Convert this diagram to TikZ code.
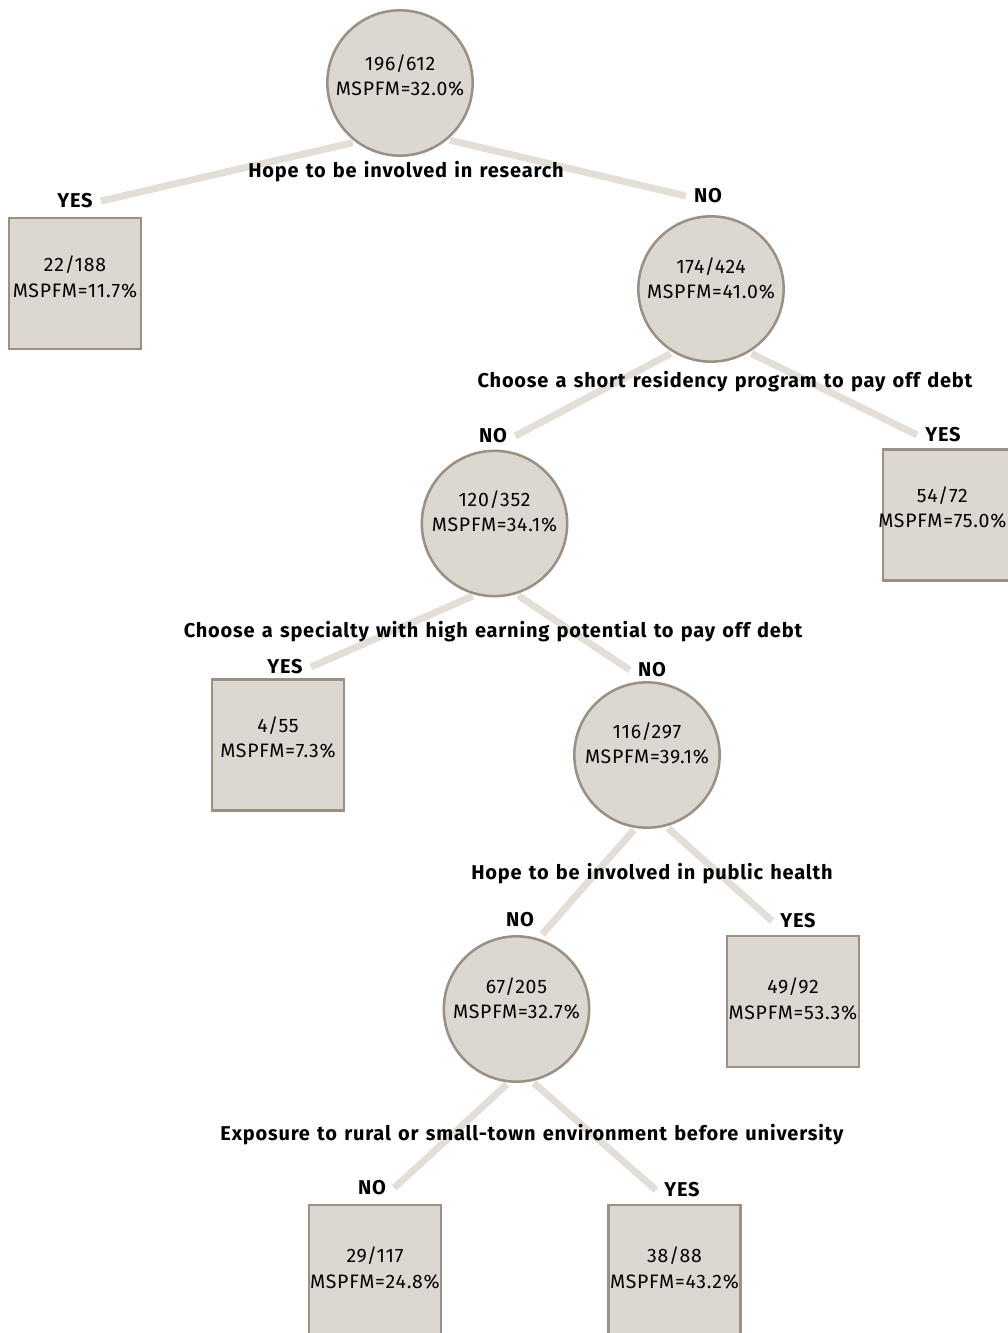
\documentclass[tikz,border=0pt]{standalone}
\usepackage{fontspec}
\setmainfont{Fira Sans}[LetterSpace=4, WordSpace=1.3]
\usetikzlibrary{backgrounds}
\definecolor{nodefill}{HTML}{DCD7D0}
\definecolor{nodeline}{HTML}{9A9084}
\definecolor{branchline}{HTML}{E3DED7}
\newcommand{\stat}[3][0pt]{\raisebox{#1}[\height][\depth]{\begin{tabular}{@{}c@{}}#2\\MSPFM=#3\%\end{tabular}}}
\tikzset{
	split/.style={circle, draw=nodeline, fill=nodefill, line width=1.9pt, minimum size=109pt, inner sep=0pt, font=\fontsize{14.6}{19}\selectfont},
	leaf/.style={rectangle, draw=nodeline, fill=nodefill, line width=1.9pt, minimum width=99pt, minimum height=98pt, inner sep=0pt, font=\fontsize{14.6}{19}\selectfont},
	answer/.style={font=\bfseries\fontsize{15}{18}\selectfont, inner xsep=6pt, inner ysep=5pt},
	question/.style={font=\bfseries\fontsize{15}{18}\selectfont, inner sep=0pt},
	branch/.style={draw=branchline, line width=5.25pt, shorten <=2pt},
}
\begin{document}
\begin{tikzpicture}[x=0.75pt, y=-0.75pt]
	\useasboundingbox (0,0) rectangle (1007,1333);
	\node[split] (0) at (400, 83) {\stat[4pt]{196/612}{32.0}};
	\node[answer] (1) at (75, 201) {YES};
	\node[answer] (2) at (708, 196) {NO};
	\node[question] (3) at (406, 172) {Hope to be involved in research};
	\node[leaf] (4) at (75, 283.5) {\stat[3pt]{22/188}{11.7}};
	\node[split] (5) at (711, 289) {\stat[6pt]{174/424}{41.0}};
	\node[answer] (6) at (493, 436) {NO};
	\node[answer] (7) at (943, 435) {YES};
	\node[question] (8) at (725, 382) {Choose a short residency program to pay off debt};
	\node[leaf] (9) at (949, 515) {\kern-5pt\stat[4pt]{54/72}{75.0}\kern5pt};
	\node[split] (10) at (494.5, 523.5) {\stat[7pt]{120/352}{34.1}};
	\node[answer] (11) at (285, 667) {YES};
	\node[answer] (12) at (652, 670) {NO};
	\node[question] (13) at (493, 632) {Choose a specialty with high earning potential to pay off debt};
	\node[leaf] (14) at (278, 745) {\stat[4pt]{4/55}{7.3}};
	\node[split] (15) at (647, 755) {\stat[7pt]{116/297}{39.1}};
	\node[answer] (16) at (520, 920) {NO};
	\node[answer] (17) at (798, 921) {YES};
	\node[question] (18) at (652, 874) {Hope to be involved in public health};
	\node[leaf] (19) at (793, 1001.5) {\stat{49/92}{53.3}};
	\node[split] (20) at (516.5, 1009) {\stat[6pt]{67/205}{32.7}};
	\node[answer] (21) at (372, 1188) {NO};
	\node[answer] (22) at (682, 1190) {YES};
	\node[question] (23) at (532, 1135) {Exposure to rural or small-town environment before university};
	\node[leaf] (24) at (375, 1270.5) {\stat{29/117}{24.8}};
	\node[leaf] (25) at (674.5, 1270.5) {\stat{38/88}{43.2}};
	\begin{scope}[on background layer]
		\draw[branch] (0.233) to (1.east);
		\draw[branch] (0.310) to (2.west);
		\draw[branch] (5.239) to (6.east);
		\draw[branch] (5.301) to (7.west);
		\draw[branch] (10.255) to (11.east);
		\draw[branch] (10.287) to (12.west);
		\draw[branch] (15.261) to (16.south east);
		\draw[branch] (15.285) to (17.west);
		\draw[branch] (20.264) to (21.east);
		\draw[branch] (20.282) to (22.west);
	\end{scope}
\end{tikzpicture}
\end{document}
